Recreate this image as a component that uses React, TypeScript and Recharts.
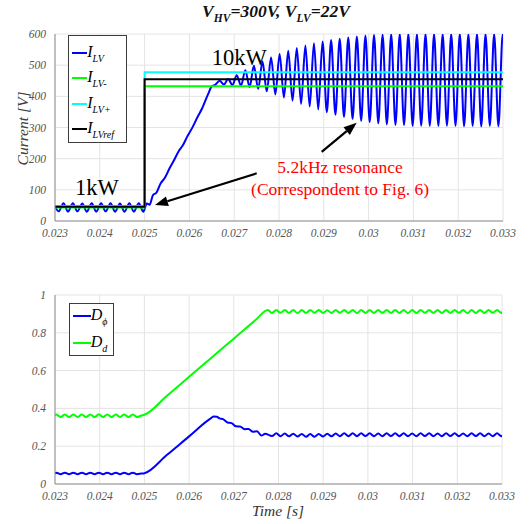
import React from 'react';
import { LineChart, Line, XAxis, YAxis, CartesianGrid, Legend, ReferenceLine, ReferenceDot } from 'recharts';

const SERIF = '"Liberation Serif", "Times New Roman", serif';

// ---------- axis ticks ----------
const timeTicks = [0.023, 0.024, 0.025, 0.026, 0.027, 0.028, 0.029, 0.03, 0.031, 0.032, 0.033];
const currentTicks = [0, 100, 200, 300, 400, 500, 600];
const dutyTicks = [0, 0.2, 0.4, 0.6, 0.8, 1];

// ---------- top plot: I_LV ----------
const ilvTime = [
  0.023, 0.02308, 0.02319, 0.02329, 0.0234, 0.0235, 0.02361, 0.02371, 0.02382, 0.02392,
  0.02403, 0.02413, 0.02424, 0.02434, 0.02445, 0.02455, 0.02466, 0.02476, 0.02487, 0.02497,
  0.02505, 0.02511, 0.02519, 0.02526, 0.02536, 0.02545, 0.02556, 0.02565, 0.02576, 0.02585,
  0.02597, 0.02606, 0.02619, 0.02628, 0.02642, 0.0265, 0.026578,
  0.026674, 0.02677, 0.026865, 0.026961, 0.027057, 0.027153, 0.027248, 0.027344, 0.02744, 0.027536,
  0.027631, 0.027727, 0.027823, 0.027919, 0.028014, 0.02811, 0.028206, 0.028302, 0.028397, 0.028493,
  0.028589, 0.028685, 0.02878, 0.028876, 0.028972, 0.029068, 0.029163, 0.029259, 0.029355, 0.029451,
  0.029546, 0.029642, 0.029738, 0.029834, 0.029929, 0.030025, 0.030121, 0.030217, 0.030312, 0.030408,
  0.030504, 0.0306, 0.030695, 0.030791, 0.030887, 0.030983, 0.031078, 0.031174, 0.03127, 0.031366,
  0.031461, 0.031557, 0.031653, 0.031749, 0.031844, 0.03194, 0.032036, 0.032132, 0.032227, 0.032323,
  0.032419, 0.032515, 0.03261, 0.032706, 0.032802, 0.032898, 0.032993, 0.033,
];
const ilvCurrent = [
  48, 31, 57, 30, 57, 31, 56, 30, 57, 30,
  57, 31, 57, 30, 56, 30, 57, 30, 57, 30,
  56, 52, 84, 90, 121, 138, 170, 193, 224, 242,
  276, 298, 336, 360, 408, 432, 437,
  450, 438, 456, 436, 468, 434, 484, 430, 498, 424,
  512, 416, 525, 406, 536, 396, 546, 386, 555, 376,
  563, 367, 570, 358, 576, 349, 581, 341, 585, 334,
  589, 327, 592, 321, 595, 317, 597, 313, 598, 310,
  599, 308, 600, 307, 600, 305, 599, 306, 600, 305,
  600, 305, 599, 306, 600, 305, 600, 304, 599, 305,
  600, 304, 600, 305, 600, 304, 599, 596,
];

// step references
const stepTime = [0.023, 0.025, 0.025, 0.033];
const ilvMinus = [43.2, 43.2, 432.5, 432.5];
const ilvPlus = [47.8, 47.8, 477.5, 477.5];
const ilvRef = [45.5, 45.5, 455, 455];

// ---------- bottom plot: duty cycles ----------
const startTime = [
  0.023, 0.02303, 0.023125, 0.02322, 0.023315, 0.02341, 0.023505, 0.0236, 0.023695, 0.02379,
  0.023885, 0.02398, 0.024075, 0.02417, 0.024265, 0.02436, 0.024455, 0.02455, 0.024645, 0.02474,
  0.024835, 0.02493, 0.025,
];
const steadyTime = [
  0.027855, 0.02795, 0.028045, 0.02814, 0.028235, 0.02833, 0.028425, 0.02852, 0.028615, 0.02871,
  0.028805, 0.0289, 0.028995, 0.02909, 0.029185, 0.02928, 0.029375, 0.02947, 0.029565, 0.02966,
  0.029755, 0.02985, 0.029945, 0.03004, 0.030135, 0.03023, 0.030325, 0.03042, 0.030515, 0.03061,
  0.030705, 0.0308, 0.030895, 0.03099, 0.031085, 0.03118, 0.031275, 0.03137, 0.031465, 0.03156,
  0.031655, 0.03175, 0.031845, 0.03194, 0.032035, 0.03213, 0.032225, 0.03232, 0.032415, 0.03251,
  0.032605, 0.0327, 0.032795, 0.03289, 0.032985, 0.033,
];

const dStart = [
  0.362, 0.368, 0.354, 0.368, 0.354, 0.368, 0.355, 0.368, 0.354, 0.368,
  0.354, 0.369, 0.354, 0.368, 0.354, 0.368, 0.355, 0.368, 0.354, 0.368,
  0.354, 0.362, 0.366,
];
const dRampTime = [0.0255, 0.026, 0.0265, 0.027, 0.0275, 0.02776];
const dRamp = [0.466, 0.567, 0.668, 0.769, 0.87, 0.921];
const dSteady = [
  0.905, 0.92, 0.906, 0.921, 0.905, 0.92, 0.904, 0.92, 0.905, 0.921,
  0.906, 0.92, 0.905, 0.919, 0.905, 0.92, 0.906, 0.921, 0.905, 0.92,
  0.904, 0.92, 0.905, 0.921, 0.905, 0.92, 0.906, 0.92, 0.905, 0.921,
  0.905, 0.92, 0.904, 0.92, 0.905, 0.921, 0.906, 0.92, 0.905, 0.92,
  0.905, 0.921, 0.905, 0.92, 0.906, 0.92, 0.904, 0.921, 0.905, 0.92,
  0.905, 0.92, 0.906, 0.921, 0.905, 0.912,
];

const phiStart = [
  0.056, 0.06, 0.052, 0.06, 0.052, 0.06, 0.052, 0.06, 0.052, 0.06,
  0.052, 0.06, 0.052, 0.06, 0.052, 0.06, 0.052, 0.06, 0.052, 0.06,
  0.052, 0.055, 0.057,
];
const phiRampTime = [
  0.0255, 0.026, 0.0265, 0.02655, 0.02662, 0.02668, 0.02676, 0.02686, 0.02695, 0.02705,
  0.02714, 0.02724, 0.02733, 0.02743, 0.02752, 0.02762, 0.0277,
];
const phiRamp = [
  0.153, 0.252, 0.35, 0.357, 0.356, 0.347, 0.343, 0.325, 0.322, 0.305,
  0.304, 0.29, 0.291, 0.276, 0.279, 0.256, 0.266,
];
const phiSteady = [
  0.254, 0.268, 0.253, 0.267, 0.252, 0.266, 0.251, 0.265, 0.25, 0.264,
  0.25, 0.265, 0.251, 0.266, 0.252, 0.267, 0.253, 0.268, 0.253, 0.268,
  0.253, 0.268, 0.254, 0.268, 0.253, 0.267, 0.253, 0.268, 0.254, 0.268,
  0.253, 0.268, 0.253, 0.267, 0.253, 0.268, 0.254, 0.268, 0.253, 0.267,
  0.253, 0.268, 0.254, 0.268, 0.253, 0.267, 0.253, 0.268, 0.254, 0.268,
  0.253, 0.267, 0.253, 0.268, 0.253, 0.258,
];

const currentLegendOrder = ['I_LV', 'I_LV-', 'I_LV+', 'I_LVref'];
const dutyLegendOrder = ['D_ϕ', 'D_d'];

// ---------- helpers ----------
const zip = (ts: number[], vs: number[]) => ts.map((t, i) => ({ t, v: vs[i] }));

const ilvData = zip(ilvTime, ilvCurrent);
const minusData = zip(stepTime, ilvMinus);
const plusData = zip(stepTime, ilvPlus);
const refData = zip(stepTime, ilvRef);
const ddData = zip([...startTime, ...dRampTime, ...steadyTime], [...dStart, ...dRamp, ...dSteady]);
const dphiData = zip([...startTime, ...phiRampTime, ...steadyTime], [...phiStart, ...phiRamp, ...phiSteady]);

const tickFont: React.CSSProperties = { fontFamily: SERIF, fontStyle: 'italic', fontSize: 11.5, fill: '#555' };
const FRAME = '#8f8f8f';
const GRID = '#e4e4e4';

function XTick(p: any) {
  return (
    <text x={p.x} y={p.y} dy="0.71em" textAnchor="middle" style={tickFont}>
      {String(p.payload.value)}
    </text>
  );
}
function YTick(p: any) {
  return (
    <text x={p.x} y={p.y} dy="0.355em" textAnchor="end" style={tickFont}>
      {String(p.payload.value)}
    </text>
  );
}

function Arrow(props: any) {
  const { x1, y1, x2, y2 } = props;
  const ang = Math.atan2(y2 - y1, x2 - x1);
  const L = 13;
  const W = 5;
  const bx = x2 - L * Math.cos(ang);
  const by = y2 - L * Math.sin(ang);
  const px = -Math.sin(ang) * W;
  const py = Math.cos(ang) * W;
  return (
    <g>
      <line x1={x1} y1={y1} x2={bx} y2={by} stroke="#000" strokeWidth={2.2} />
      <polygon points={`${x2},${y2} ${bx + px},${by + py} ${bx - px},${by - py}`} fill="#000" />
    </g>
  );
}

function makeLegend(order: string[], cfg: { w: number; h: number; first: number; step: number; lineX: number; lineW: number }) {
  return (props: any) => {
    const payload: any[] = props.payload || [];
    const items = order.map((n) => payload.find((p) => p.value === n)).filter(Boolean);
    return (
      <div
        style={{
          position: 'relative',
          boxSizing: 'border-box',
          width: cfg.w,
          height: cfg.h,
          border: '1px solid #3c3c3c',
          background: '#fff',
        }}
      >
        {items.map((it: any, i: number) => {
          const [main, sub] = String(it.value).split('_');
          return (
            <div
              key={it.value}
              style={{
                position: 'absolute',
                left: 0,
                top: cfg.first + i * cfg.step - 10,
                height: 20,
                display: 'flex',
                alignItems: 'center',
                whiteSpace: 'nowrap',
              }}
            >
              <span style={{ display: 'inline-block', width: cfg.lineW, height: 2, background: it.color, marginLeft: cfg.lineX }} />
              <span style={{ fontFamily: SERIF, fontStyle: 'italic', fontSize: 16, color: '#000', lineHeight: '16px' }}>
                {main}
                <span style={{ fontSize: 10, position: 'relative', top: 5 }}>{sub}</span>
              </span>
            </div>
          );
        })}
      </div>
    );
  };
}

const currentLegend = makeLegend(currentLegendOrder, { w: 59, h: 108, first: 16.5, step: 25.6, lineX: 2.7, lineW: 15.6 });
const dutyLegend = makeLegend(dutyLegendOrder, { w: 45, h: 53, first: 11.5, step: 27.2, lineX: 2.7, lineW: 18 });

const textDot = (render: (x: number, y: number) => React.ReactElement) => (p: any) => render(p.cx, p.cy);

export default function App() {
  return (
    <div style={{ position: 'absolute', left: 0, top: 0, width: 530, height: 524, background: '#fff' }}>
      <LineChart width={530} height={250} margin={{ top: 34, right: 27, left: 0, bottom: 4 }}>
        <CartesianGrid stroke={GRID} strokeWidth={1} />
        <XAxis
          dataKey="t"
          type="number"
          domain={[0.023, 0.033]}
          ticks={timeTicks}
          allowDataOverflow
          height={25}
          tick={<XTick />}
          tickLine={false}
          axisLine={{ stroke: FRAME }}
        />
        <XAxis xAxisId="top" orientation="top" type="number" domain={[0, 1]} height={0} tick={false} tickLine={false} axisLine={{ stroke: FRAME }} />
        <YAxis
          type="number"
          domain={[0, 600]}
          ticks={currentTicks}
          allowDataOverflow
          width={55}
          tick={<YTick />}
          tickLine={false}
          tickMargin={3}
          axisLine={{ stroke: FRAME }}
        />
        <YAxis yAxisId="right" orientation="right" type="number" domain={[0, 1]} width={0} tick={false} tickLine={false} axisLine={{ stroke: FRAME }} />
        <Line data={ilvData} dataKey="v" name="I_LV" type="monotone" stroke="#0000ff" strokeWidth={2} dot={false} activeDot={false} isAnimationActive={false} />
        <Line data={minusData} dataKey="v" name="I_LV-" type="linear" stroke="#00ff00" strokeWidth={2} dot={false} activeDot={false} isAnimationActive={false} />
        <Line data={plusData} dataKey="v" name="I_LV+" type="linear" stroke="#00ffff" strokeWidth={2} dot={false} activeDot={false} isAnimationActive={false} />
        <Line data={refData} dataKey="v" name="I_LVref" type="linear" stroke="#000000" strokeWidth={2} dot={false} activeDot={false} isAnimationActive={false} />
        <ReferenceLine segment={[{ x: 0.027502, y: 153 }, { x: 0.025232, y: 51 }]} shape={Arrow} />
        <ReferenceLine segment={[{ x: 0.028953, y: 222 }, { x: 0.029734, y: 315 }]} shape={Arrow} />
        <ReferenceDot
          x={0.023446}
          y={83}
          r={0}
          shape={textDot((x, y) => (
            <text x={x} y={y} style={{ fontFamily: SERIF, fontSize: 22.5, fill: '#000' }}>1kW</text>
          ))}
        />
        <ReferenceDot
          x={0.0265}
          y={500}
          r={0}
          shape={textDot((x, y) => (
            <text x={x} y={y} style={{ fontFamily: SERIF, fontSize: 22.5, fill: '#000' }}>10kW</text>
          ))}
        />
        <ReferenceDot
          x={0.029362}
          y={153}
          r={0}
          shape={textDot((x, y) => (
            <text x={x} y={y} textAnchor="middle" style={{ fontFamily: SERIF, fontSize: 17.5, fill: '#ff0000' }}>
              <tspan x={x}>5.2kHz resonance</tspan>
              <tspan x={x} dy={21.7}>(Correspondent to Fig. 6)</tspan>
            </text>
          ))}
        />
        <Legend
          layout="vertical"
          align="center"
          verticalAlign="middle"
          content={currentLegend}
          wrapperStyle={{ left: 68, top: 35, width: 59, height: 108 }}
        />
      </LineChart>

      <LineChart width={530} height={274} margin={{ top: 45, right: 28, left: 0, bottom: 15 }}>
        <CartesianGrid stroke={GRID} strokeWidth={1} />
        <XAxis
          dataKey="t"
          type="number"
          domain={[0.023, 0.033]}
          ticks={timeTicks}
          allowDataOverflow
          height={25}
          tick={<XTick />}
          tickLine={false}
          axisLine={{ stroke: FRAME }}
        />
        <XAxis xAxisId="top" orientation="top" type="number" domain={[0, 1]} height={0} tick={false} tickLine={false} axisLine={{ stroke: FRAME }} />
        <YAxis
          type="number"
          domain={[0, 1]}
          ticks={dutyTicks}
          allowDataOverflow
          width={55}
          tick={<YTick />}
          tickLine={false}
          tickMargin={3}
          axisLine={{ stroke: FRAME }}
        />
        <YAxis yAxisId="right" orientation="right" type="number" domain={[0, 1]} width={0} tick={false} tickLine={false} axisLine={{ stroke: FRAME }} />
        <Line data={dphiData} dataKey="v" name="D_ϕ" type="monotone" stroke="#0000ff" strokeWidth={2} dot={false} activeDot={false} isAnimationActive={false} />
        <Line data={ddData} dataKey="v" name="D_d" type="monotone" stroke="#00ff00" strokeWidth={2} dot={false} activeDot={false} isAnimationActive={false} />
        <Legend
          layout="vertical"
          align="center"
          verticalAlign="middle"
          content={dutyLegend}
          wrapperStyle={{ left: 69, top: 53, width: 45, height: 53 }}
        />
      </LineChart>

      <svg width={530} height={524} style={{ position: 'absolute', left: 0, top: 0, pointerEvents: 'none' }}>
        <text x={276} y={17} textAnchor="middle" style={{ fontFamily: SERIF, fontStyle: 'italic', fontWeight: 'bold', fontSize: 17.5, fill: '#111' }}>
          V<tspan dy={5} style={{ fontSize: 11.5 }}>HV</tspan>
          <tspan dy={-5}>=300V, V</tspan>
          <tspan dy={5} style={{ fontSize: 11.5 }}>LV</tspan>
          <tspan dy={-5}>=22V</tspan>
        </text>
        <text transform="translate(28,128.5) rotate(-90)" textAnchor="middle" style={{ fontFamily: SERIF, fontStyle: 'italic', fontSize: 15.5, fill: '#404040' }}>
          Current [V]
        </text>
        <text x={278} y={516} textAnchor="middle" style={{ fontFamily: SERIF, fontStyle: 'italic', fontSize: 15.5, fill: '#333' }}>
          Time [s]
        </text>
      </svg>
    </div>
  );
}
